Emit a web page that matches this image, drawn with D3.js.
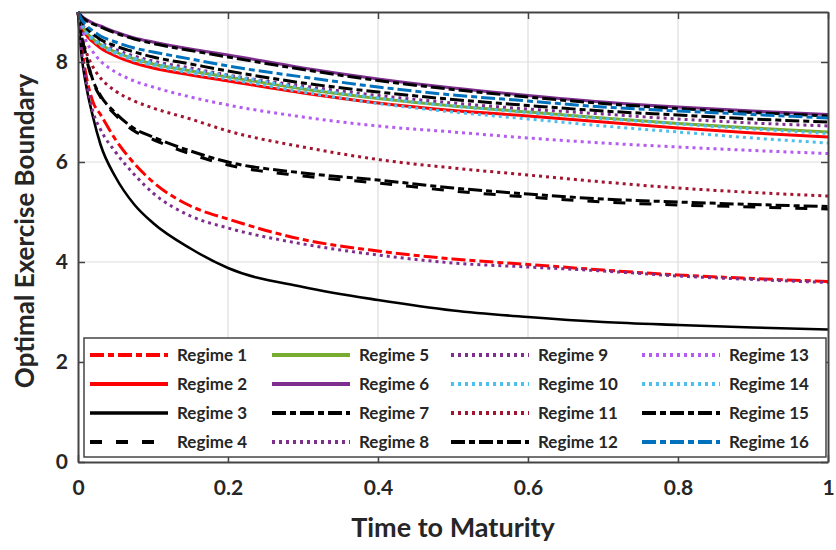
<html>
  <head>
    <script src="https://cdn.jsdelivr.net/npm/d3@7"></script>
    <style>
      body { margin: 0; background: #fff; }
      text { font-family: Lato, "Liberation Sans", Arial, sans-serif; font-weight: bold; fill: #262626; }
    </style>
  </head>
  <body>
    <div id="chart"></div>
    <script>
      // time grid shared by all regimes
      const timeGrid = [0, 0.005, 0.01, 0.02, 0.03, 0.05, 0.075, 0.1, 0.15, 0.2, 0.3, 0.4, 0.5, 0.6, 0.7, 0.8, 0.9, 1.0];

      // boundary values, one array per regime
      const regime1  = [9, 8.3, 7.8, 7.2, 6.95, 6.45, 5.97, 5.6, 5.12, 4.86, 4.45, 4.22, 4.06, 3.95, 3.84, 3.74, 3.67, 3.61];
      const regime2  = [9, 8.7, 8.56, 8.4, 8.28, 8.12, 7.98, 7.88, 7.74, 7.62, 7.38, 7.18, 7.03, 6.92, 6.8, 6.68, 6.58, 6.5];
      const regime3  = [9, 8.1, 7.6, 6.9, 6.35, 5.7, 5.15, 4.78, 4.27, 3.88, 3.5, 3.24, 3.03, 2.9, 2.8, 2.74, 2.69, 2.65];
      const regime4  = [9, 8.5, 8.15, 7.6, 7.3, 6.94, 6.62, 6.45, 6.16, 5.94, 5.72, 5.58, 5.42, 5.3, 5.2, 5.14, 5.1, 5.06];
      const regime5  = [9, 8.75, 8.62, 8.46, 8.35, 8.2, 8.06, 7.96, 7.82, 7.7, 7.46, 7.27, 7.12, 7.0, 6.88, 6.77, 6.68, 6.6];
      const regime6  = [9, 8.92, 8.86, 8.78, 8.72, 8.6, 8.48, 8.4, 8.26, 8.14, 7.88, 7.66, 7.48, 7.33, 7.2, 7.1, 7.02, 6.95];
      const regime7  = [9, 8.9, 8.84, 8.76, 8.7, 8.58, 8.46, 8.37, 8.23, 8.1, 7.85, 7.63, 7.45, 7.3, 7.17, 7.07, 6.99, 6.92];
      const regime8  = [9, 8.2, 7.7, 7.0, 6.65, 6.2, 5.75, 5.38, 4.92, 4.68, 4.36, 4.14, 3.98, 3.9, 3.82, 3.72, 3.65, 3.59];
      const regime9  = [9, 8.78, 8.66, 8.5, 8.4, 8.25, 8.12, 8.02, 7.88, 7.74, 7.52, 7.33, 7.18, 7.06, 6.96, 6.86, 6.78, 6.72];
      const regime10 = [9, 8.72, 8.6, 8.44, 8.33, 8.17, 8.03, 7.93, 7.78, 7.66, 7.4, 7.17, 7.0, 6.86, 6.72, 6.6, 6.48, 6.38];
      const regime11 = [9, 8.55, 8.25, 7.9, 7.68, 7.42, 7.22, 7.08, 6.86, 6.62, 6.3, 6.05, 5.88, 5.74, 5.6, 5.48, 5.39, 5.32];
      const regime12 = [9, 8.52, 8.18, 7.63, 7.33, 6.98, 6.67, 6.5, 6.22, 6.0, 5.78, 5.64, 5.48, 5.36, 5.26, 5.2, 5.15, 5.11];
      const regime13 = [9, 8.7, 8.45, 8.2, 8.02, 7.8, 7.62, 7.5, 7.3, 7.14, 6.9, 6.72, 6.6, 6.48, 6.38, 6.3, 6.23, 6.17];
      const regime14 = [9, 8.76, 8.64, 8.48, 8.37, 8.21, 8.08, 7.98, 7.84, 7.73, 7.48, 7.28, 7.12, 6.99, 6.87, 6.76, 6.66, 6.57];
      const regime15 = [9, 8.82, 8.7, 8.56, 8.45, 8.32, 8.2, 8.1, 7.96, 7.82, 7.58, 7.4, 7.25, 7.13, 7.02, 6.94, 6.86, 6.8];
      const regime16 = [9, 8.85, 8.75, 8.62, 8.52, 8.4, 8.28, 8.2, 8.06, 7.92, 7.7, 7.5, 7.34, 7.22, 7.1, 7.02, 6.95, 6.88];

      const regimeNames = ["Regime 1", "Regime 2", "Regime 3", "Regime 4", "Regime 5", "Regime 6", "Regime 7", "Regime 8",
        "Regime 9", "Regime 10", "Regime 11", "Regime 12", "Regime 13", "Regime 14", "Regime 15", "Regime 16"];
      const regimeValues = [regime1, regime2, regime3, regime4, regime5, regime6, regime7, regime8,
        regime9, regime10, regime11, regime12, regime13, regime14, regime15, regime16];

      const xTicks = [0, 0.2, 0.4, 0.6, 0.8, 1];
      const yTicks = [0, 2, 4, 6, 8];

      // line styles (colour, dash pattern, width)
      const dashDot = "14,4,6,4", dotted = "3,4", dashed = "12,14";
      const styles = [
        { color: "#ff0000", dash: dashDot, w: 3 },
        { color: "#ff0000", dash: null, w: 3 },
        { color: "#000000", dash: null, w: 2.6 },
        { color: "#000000", dash: dashed, w: 3 },
        { color: "#77ac30", dash: null, w: 3 },
        { color: "#7e2f8e", dash: null, w: 3 },
        { color: "#000000", dash: dashDot, w: 3 },
        { color: "#7e2f8e", dash: dotted, w: 3 },
        { color: "#7e2f8e", dash: dotted, w: 3 },
        { color: "#4dbeee", dash: dotted, w: 3 },
        { color: "#a2142f", dash: dotted, w: 3 },
        { color: "#000000", dash: dashDot, w: 3 },
        { color: "#b45cf2", dash: dotted, w: 3 },
        { color: "#4dbeee", dash: dotted, w: 3 },
        { color: "#000000", dash: dashDot, w: 3 },
        { color: "#0072bd", dash: dashDot, w: 3 },
      ];

      let margin = { top: 12, right: 8, bottom: 88, left: 78 },
        width = 836 - margin.left - margin.right,
        height = 550 - margin.top - margin.bottom;

      let svg = d3.select("#chart").append("svg")
        .attr("width", 836)
        .attr("height", 550);

      let vis = svg.append("g")
        .attr("transform", "translate(" + margin.left + "," + margin.top + ")");

      let x = d3.scaleLinear().domain([0, 1]).range([0, width]);
      let y = d3.scaleLinear().domain([0, 9]).range([height, 0]);

      // grid
      vis.append("g").selectAll("line").data(xTicks.slice(1, -1)).enter().append("line")
        .attr("x1", (d) => x(d)).attr("x2", (d) => x(d))
        .attr("y1", 0).attr("y2", height)
        .attr("stroke", "#dedede").attr("stroke-width", 1.2);
      vis.append("g").selectAll("line").data(yTicks.slice(1)).enter().append("line")
        .attr("x1", 0).attr("x2", width)
        .attr("y1", (d) => y(d)).attr("y2", (d) => y(d))
        .attr("stroke", "#dedede").attr("stroke-width", 1.2);

      // curves
      let line = d3.line()
        .curve(d3.curveMonotoneX)
        .x((d, i) => x(timeGrid[i]))
        .y((d) => y(d));

      let curves = vis.append("g");
      regimeValues.forEach(function (vals, i) {
        let s = styles[i];
        curves.append("path")
          .datum(vals)
          .attr("fill", "none")
          .attr("stroke", s.color)
          .attr("stroke-width", s.w)
          .attr("stroke-dasharray", s.dash)
          .attr("d", line);
      });

      // axes, MATLAB style box with inward ticks
      let fmt = (d) => (d === 0 || d === 1 ? String(d) : d3.format(".1f")(d));
      let xAxis = vis.append("g")
        .attr("transform", "translate(0," + height + ")")
        .call(d3.axisBottom(x).tickValues(xTicks).tickFormat(fmt).tickSizeInner(-7).tickSizeOuter(0).tickPadding(18));
      let yAxis = vis.append("g")
        .call(d3.axisLeft(y).tickValues(yTicks).tickSizeInner(-7).tickSizeOuter(0).tickPadding(10));
      vis.append("g")
        .call(d3.axisTop(x).tickValues(xTicks).tickFormat("").tickSizeInner(-7).tickSizeOuter(0));
      vis.append("g")
        .attr("transform", "translate(" + width + ",0)")
        .call(d3.axisRight(y).tickValues(yTicks).tickFormat("").tickSizeInner(-7).tickSizeOuter(0));
      vis.selectAll(".domain").attr("stroke", "#444").attr("stroke-width", 2);
      vis.selectAll(".tick line").attr("stroke", "#444").attr("stroke-width", 1.5);
      vis.selectAll(".tick text").style("font-size", "21px").attr("fill", "#262626");
      xAxis.selectAll(".tick text").attr("dy", "0.71em");

      // axis titles
      svg.append("text")
        .attr("x", margin.left + width / 2)
        .attr("y", 537)
        .attr("text-anchor", "middle")
        .style("font-size", "27px")
        .text("Time to Maturity");
      svg.append("text")
        .attr("transform", "translate(34," + 231 + ")rotate(-90)")
        .attr("text-anchor", "middle")
        .style("font-size", "26px")
        .text("Optimal Exercise Boundary");

      // legend, 4 columns x 4 rows, column-major
      let legend = vis.append("g").attr("transform", "translate(6,326)");
      legend.append("rect")
        .attr("width", 742).attr("height", 119)
        .attr("fill", "#fff").attr("stroke", "#444").attr("stroke-width", 1.5);
      let colX = [6, 188, 367, 558];
      regimeNames.forEach(function (name, i) {
        let col = Math.floor(i / 4), row = i % 4, s = styles[i];
        let g = legend.append("g")
          .attr("transform", "translate(" + colX[col] + "," + (17 + row * 29) + ")");
        g.append("line")
          .attr("x1", 0).attr("x2", 78)
          .attr("stroke", s.color)
          .attr("stroke-width", s.w + 1)
          .attr("stroke-dasharray", s.dash);
        g.append("text")
          .attr("x", 87).attr("dy", "0.35em")
          .style("font-size", "17px")
          .text(name);
      });
    </script>
  </body>
</html>
